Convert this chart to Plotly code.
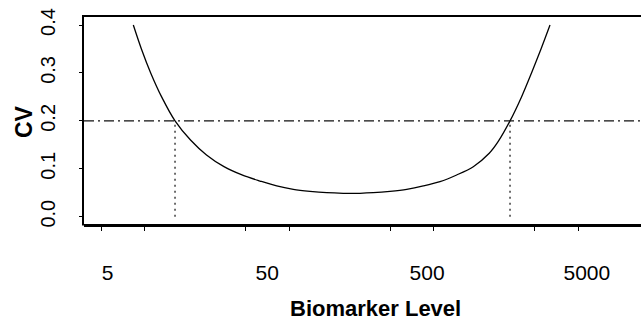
import plotly.graph_objects as go

# Precision profile: coefficient of variation across biomarker levels
level = [8.365, 9.515, 11.03, 13.13, 16.25, 20.80, 26.83, 35.44, 47.21, 62.88,
         82.07, 106.9, 139.4, 181.9, 237.0, 309.1, 382.1, 498.4, 650.3, 847.1,
         1105, 1441, 1878, 2420, 2787, 3370, 4046, 4745, 5520, 6370]
cv = [0.400, 0.350, 0.300, 0.250, 0.200, 0.160, 0.1288, 0.1044, 0.0871, 0.0745,
      0.0641, 0.0572, 0.0530, 0.0501, 0.0489, 0.0489, 0.0501, 0.0530, 0.0572, 0.0641,
      0.0731, 0.0871, 0.1044, 0.1324, 0.1566, 0.200, 0.250, 0.300, 0.350, 0.400]

# Acceptable CV limit and the levels where the profile crosses it
cv_limit = 0.2
limit_levels = [16.25, 3370]

tick_levels = [5, 10, 50, 100, 500, 1000, 5000, 10000]
label_levels = [5, 50, 500, 5000]
label_text = ["5", "50", "500", "5000"]
cv_ticks = [0.0, 0.1, 0.2, 0.3, 0.4]

FONT = "Liberation Sans, Arial, sans-serif"
PLOT_W = 557
NONE_COLOR = "rgba(0,0,0,0)"

fig = go.Figure()

fig.add_trace(go.Scatter(
    x=level, y=cv, mode="lines",
    line=dict(color="black", width=1.3, shape="spline", smoothing=0.9),
    hoverinfo="skip", showlegend=False,
))

for lv in limit_levels:
    fig.add_trace(go.Scatter(
        x=[lv, lv], y=[0, cv_limit], mode="lines",
        line=dict(color="#222222", width=1.3, dash="2px,4px"),
        hoverinfo="skip", showlegend=False,
    ))

fig.add_shape(type="line", xref="x domain", yref="y",
              x0=0, x1=1, y0=cv_limit, y1=cv_limit,
              line=dict(color="#111111", width=1.3, dash="10px,4px,2px,4px"))

# Frame: top and left edges
fig.add_shape(type="line", xref="paper", yref="paper",
              x0=-1 / PLOT_W, x1=1, y0=1 + 1 / 207, y1=1 + 1 / 207,
              line=dict(color="black", width=2))
fig.add_shape(type="line", xref="paper", yref="paper",
              x0=-1 / PLOT_W, x1=-1 / PLOT_W, y0=-1.5 / 207, y1=1 + 2 / 207,
              line=dict(color="black", width=2))

# Tick-label axis for the level scale
fig.add_trace(go.Scatter(x=[label_levels[0]], y=[None], xaxis="x2",
                         hoverinfo="skip", showlegend=False))

fig.update_layout(
    width=641, height=322,
    margin=dict(l=84, r=0, t=17, b=98),
    paper_bgcolor="white", plot_bgcolor="white",
    font=dict(family=FONT, color="black"),
    xaxis=dict(
        type="log", range=[0.5814, 0.5814 + PLOT_W / 144.6],
        tickvals=tick_levels, showticklabels=False,
        ticks="outside", ticklen=4, tickwidth=1, tickcolor="black",
        showline=True, linecolor="black", linewidth=2.5,
        showgrid=False, zeroline=False,
    ),
    xaxis2=dict(
        type="log", range=[0.5521, 0.5521 + PLOT_W / 159.8], overlaying="x",
        side="bottom", anchor="free", position=0,
        tickvals=label_levels, ticktext=label_text,
        ticks="", showline=False, showgrid=False, zeroline=False,
        linecolor=NONE_COLOR, linewidth=0, tickcolor=NONE_COLOR,
        gridcolor=NONE_COLOR, zerolinecolor=NONE_COLOR,
        tickfont=dict(size=21, family=FONT, color="black"),
        ticklabelstandoff=34,
    ),
    yaxis=dict(
        range=[-0.0152, 0.4167],
        tickvals=cv_ticks, tickformat=".1f", tickangle=-90,
        tickfont=dict(size=20, family=FONT, color="black"),
        ticks="outside", ticklen=4, tickwidth=1, tickcolor="black",
        showline=False,
        showgrid=False, zeroline=False,
        ticklabelstandoff=16,
    ),
    annotations=[
        dict(text="<b>Biomarker Level</b>", xref="paper", yref="paper",
             x=(375.8 - 84) / PLOT_W, y=(224 - 308) / 207,
             xanchor="center", yanchor="middle", showarrow=False,
             font=dict(size=22, family=FONT, color="black")),
        dict(text="<b>CV</b>", xref="paper", yref="paper",
             x=(23.3 - 84) / PLOT_W, y=(224 - 121.7) / 207, textangle=-90,
             xanchor="center", yanchor="middle", showarrow=False,
             font=dict(size=23, family=FONT, color="black")),
    ],
)

fig.write_html("out.html", config={"displayModeBar": False})
